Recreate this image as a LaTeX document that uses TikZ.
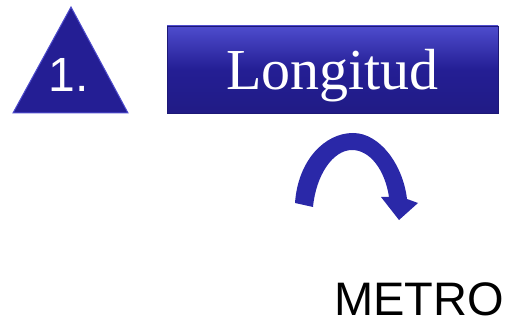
\documentclass[tikz,border=0pt]{standalone}
\usepackage{fontspec}
\setmainfont{Liberation Serif}
\setsansfont{Liberation Sans}
\usepackage{tikz}
\usetikzlibrary{positioning, calc}
\definecolor{boxColor}{RGB}{36,30,148}
\definecolor{edgeColor}{RGB}{78,76,205}
\definecolor{arrowColor}{RGB}{42,40,168}
\tikzstyle{tribox} = [fill=boxColor, draw=edgeColor, line width=1pt, line join=miter]
\tikzstyle{process} = [rectangle, minimum width=331pt, minimum height=87pt, inner sep=0pt, top color=edgeColor, bottom color=boxColor!90!black, middle color=boxColor, draw=boxColor!80!black, text=white, text depth=0pt, font=\fontsize{58}{60}\selectfont]
\tikzstyle{numtext} = [text=white, inner sep=0pt, font=\sffamily\fontsize{48}{50}\selectfont]
\tikzstyle{unit} = [inner sep=0pt, text=black, font=\sffamily\fontsize{47}{50}\selectfont]

\begin{document}
\begin{tikzpicture}[x=1pt, y=-1pt]
            \useasboundingbox (0,0) rectangle (509,326);

            % Number
            \fill[tribox] (13,113) -- (71,7) -- (128,113) -- cycle;
            \node (num) [numtext, anchor=base] at (69,92) {1.};

            % Title
            \node (len) [process] at (332.5,69.5) {Longitud};

            % Curved arrow
            \fill[arrowColor] (295,203) .. controls (298,160) and (325,133) .. (353,133)
                .. controls (380,133) and (403,165) .. (407,199)
                -- (418,203) -- (399,220) -- (381,197) -- (389,197)
                .. controls (385,170) and (370,150) .. (352,150)
                .. controls (333,150) and (316,175) .. (313,207) -- cycle;

            % Unit
            \node (unit) [unit, anchor=base west] at (334,315) {METRO};
        \end{tikzpicture}
\end{document}
